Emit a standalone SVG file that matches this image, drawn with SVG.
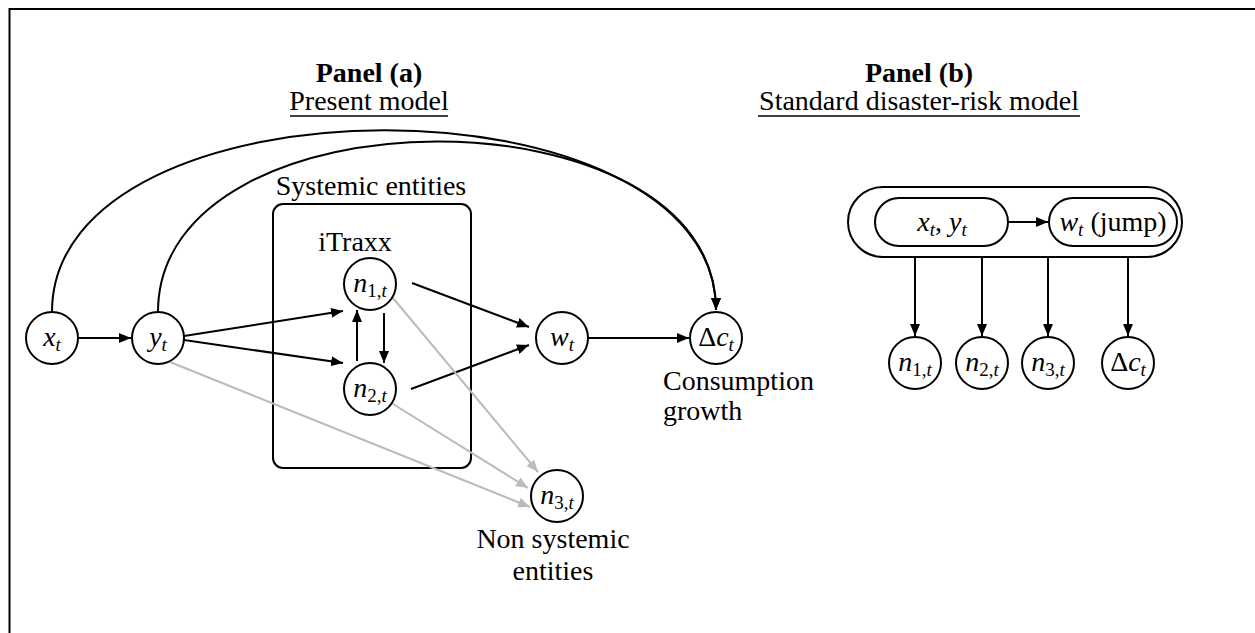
<svg xmlns="http://www.w3.org/2000/svg" width="1255" height="633" viewBox="0 0 1255 633">
<style>
text{font-family:"Liberation Serif","Times New Roman",serif;font-size:28px;fill:#000}
.b{font-weight:bold}
.i{font-style:italic}
.s{font-size:19px}
.m{text-anchor:middle}
.node{fill:#fff;stroke:#000;stroke-width:2}
.e{fill:none;stroke:#000;stroke-width:2}
.g{fill:none;stroke:#bbb;stroke-width:2}
</style>
<defs>
<marker id="ah" viewBox="0 0 12 10" refX="12" refY="5" markerWidth="12" markerHeight="10" markerUnits="userSpaceOnUse" orient="auto"><path d="M0,0 L12,5 L0,10 z" fill="#000"/></marker>
<marker id="ahg" viewBox="0 0 12 10" refX="12" refY="5" markerWidth="12" markerHeight="10" markerUnits="userSpaceOnUse" orient="auto"><path d="M0,0 L12,5 L0,10 z" fill="#bbb"/></marker>
</defs>
<rect width="1255" height="633" fill="#fff"/>
<path d="M9.5,633 V9 H1255" fill="none" stroke="#000" stroke-width="2"/>
<g id="titles">
<text class="b m" x="369" y="82">Panel (a)</text>
<text class="m" x="369" y="110">Present model</text>
<line x1="290" y1="116" x2="448" y2="116" stroke="#000" stroke-width="1.5"/>
<text class="b m" x="919" y="82">Panel (b)</text>
<text class="m" x="919" y="110">Standard disaster-risk model</text>
<line x1="758" y1="116" x2="1080" y2="116" stroke="#000" stroke-width="1.5"/>
</g>
<g id="systemic-box">
<rect x="273" y="204" width="198" height="264" rx="10" class="e"/>
<text class="m" x="371" y="195">Systemic entities</text>
<text class="m" x="355" y="251">iTraxx</text>
</g>
<g id="connectors">
<path class="e" d="M52,312 C52,70 716,70 716,310" marker-end="url(#ah)"/>
<path class="e" d="M158,312 C158,85 716,85 716,310" marker-end="url(#ah)"/>
<line class="e" x1="78" y1="338" x2="131" y2="338" marker-end="url(#ah)"/>
<line class="e" x1="184" y1="336" x2="343" y2="311" marker-end="url(#ah)"/>
<line class="e" x1="184" y1="340" x2="343" y2="363" marker-end="url(#ah)"/>
<line class="e" x1="357" y1="361" x2="357" y2="310" marker-end="url(#ah)"/>
<line class="e" x1="384" y1="313" x2="384" y2="363" marker-end="url(#ah)"/>
<line class="e" x1="412" y1="283" x2="529" y2="327" marker-end="url(#ah)"/>
<line class="e" x1="411" y1="389" x2="529" y2="345" marker-end="url(#ah)"/>
<line class="e" x1="588" y1="338" x2="689" y2="338" marker-end="url(#ah)"/>
<line class="g" x1="393" y1="298" x2="538" y2="472" marker-end="url(#ahg)"/>
<line class="g" x1="393" y1="404" x2="528" y2="488" marker-end="url(#ahg)"/>
<line class="g" x1="170" y1="362" x2="530" y2="507" marker-end="url(#ahg)"/>
<line class="e" x1="1008" y1="222" x2="1048" y2="222" marker-end="url(#ah)"/>
<line class="e" x1="915" y1="257" x2="915" y2="336" marker-end="url(#ah)"/>
<line class="e" x1="982" y1="257" x2="982" y2="336" marker-end="url(#ah)"/>
<line class="e" x1="1048" y1="257" x2="1048" y2="336" marker-end="url(#ah)"/>
<line class="e" x1="1128" y1="257" x2="1128" y2="336" marker-end="url(#ah)"/>
</g>
<g id="x_t"><circle class="node" cx="52" cy="338" r="26"/><text class="m" x="52" y="346"><tspan class="i">x</tspan><tspan class="i s" dy="5">t</tspan></text></g>
<g id="y_t"><circle class="node" cx="158" cy="338" r="26"/><text class="m" x="158" y="346"><tspan class="i">y</tspan><tspan class="i s" dy="5">t</tspan></text></g>
<g id="n1"><circle class="node" cx="370" cy="284" r="26"/><text class="m" x="370" y="292"><tspan class="i">n</tspan><tspan class="s" dy="5">1,</tspan><tspan class="i s">t</tspan></text></g>
<g id="n2"><circle class="node" cx="370" cy="389" r="26"/><text class="m" x="370" y="397"><tspan class="i">n</tspan><tspan class="s" dy="5">2,</tspan><tspan class="i s">t</tspan></text></g>
<g id="w_t"><circle class="node" cx="562" cy="338" r="26"/><text class="m" x="562" y="346"><tspan class="i">w</tspan><tspan class="i s" dy="5">t</tspan></text></g>
<g id="dc"><circle class="node" cx="716" cy="338" r="26"/><text class="m" x="716" y="346"><tspan>Δ</tspan><tspan class="i">c</tspan><tspan class="i s" dy="5">t</tspan></text>
<text x="663" y="390">Consumption</text><text x="663" y="420">growth</text></g>
<g id="n3"><circle class="node" cx="557" cy="496" r="26"/><text class="m" x="557" y="504"><tspan class="i">n</tspan><tspan class="s" dy="5">3,</tspan><tspan class="i s">t</tspan></text>
<text class="m" x="553" y="548">Non systemic</text><text class="m" x="553" y="580">entities</text></g>
<g id="panel-b">
<rect class="e" x="848" y="187" width="334" height="70" rx="35"/>
<g id="xy"><rect class="node" x="875" y="198" width="133" height="48" rx="24"/><text class="m" x="942" y="231"><tspan class="i">x</tspan><tspan class="i s" dy="5">t</tspan><tspan dy="-5">, </tspan><tspan class="i">y</tspan><tspan class="i s" dy="5">t</tspan></text></g>
<g id="wjump"><rect class="node" x="1049" y="198" width="128" height="48" rx="24"/><text class="m" x="1113" y="231"><tspan class="i">w</tspan><tspan class="i s" dy="5">t</tspan><tspan dy="-5"> (jump)</tspan></text></g>
</g>
<g id="b-n1"><circle class="node" cx="915" cy="363" r="26"/><text class="m" x="915" y="371"><tspan class="i">n</tspan><tspan class="s" dy="5">1,</tspan><tspan class="i s">t</tspan></text></g>
<g id="b-n2"><circle class="node" cx="982" cy="363" r="26"/><text class="m" x="982" y="371"><tspan class="i">n</tspan><tspan class="s" dy="5">2,</tspan><tspan class="i s">t</tspan></text></g>
<g id="b-n3"><circle class="node" cx="1048" cy="363" r="26"/><text class="m" x="1048" y="371"><tspan class="i">n</tspan><tspan class="s" dy="5">3,</tspan><tspan class="i s">t</tspan></text></g>
<g id="b-dc"><circle class="node" cx="1128" cy="363" r="26"/><text class="m" x="1128" y="371"><tspan>Δ</tspan><tspan class="i">c</tspan><tspan class="i s" dy="5">t</tspan></text></g>
</svg>
